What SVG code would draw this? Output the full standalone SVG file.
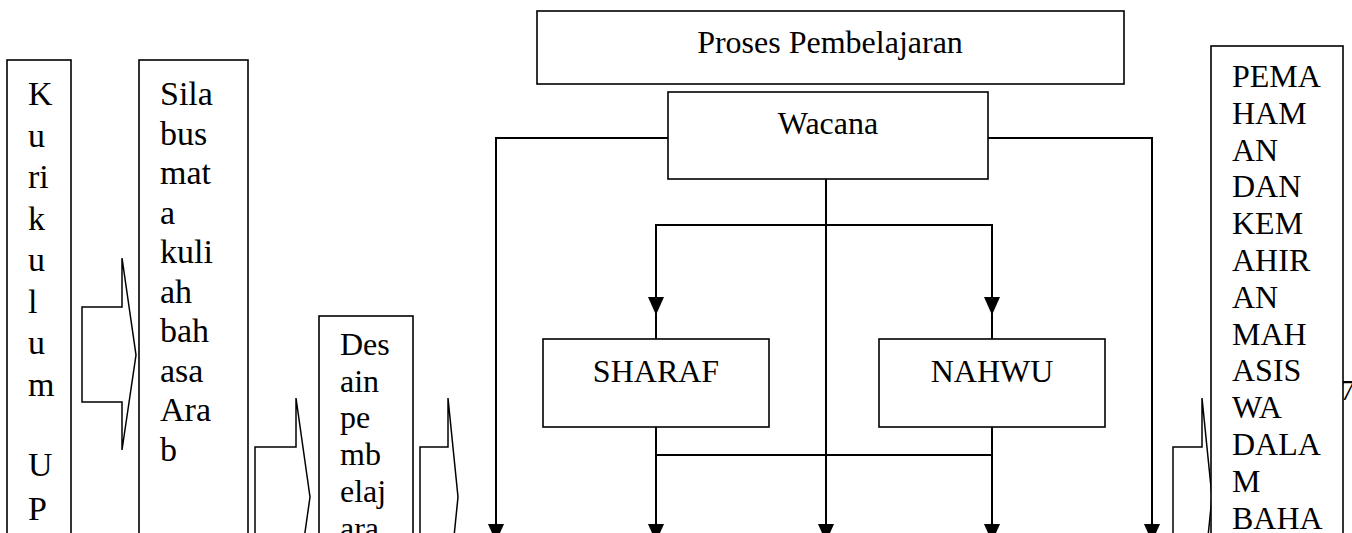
<svg xmlns="http://www.w3.org/2000/svg" width="1352" height="533" viewBox="0 0 1352 533">
<style>
.box{fill:#fff;stroke:#000;stroke-width:1.6}
.blk{fill:#fff;stroke:#000;stroke-width:1.5;stroke-linejoin:miter}
.ln{fill:none;stroke:#000;stroke-width:2}
.hd{fill:#000;stroke:none}
text{font-family:"Liberation Serif","Times New Roman",serif;fill:#000}
.t34{font-size:34px}
.t32{font-size:32px}
.t30{font-size:30px}
.mid{text-anchor:middle}
</style>
<rect width="1352" height="533" fill="#fff"/>
<text x="1340" y="400" class="t30">7</text>
<g id="kurikulum">
<rect class="box" x="7" y="60" width="64" height="500"/>
<text class="t34"><tspan x="28" y="105">K</tspan><tspan x="28" y="146.5">u</tspan><tspan x="28" y="188">ri</tspan><tspan x="28" y="229.5">k</tspan><tspan x="28" y="271">u</tspan><tspan x="28" y="312.5">l</tspan><tspan x="28" y="354">u</tspan><tspan x="28" y="395.5">m</tspan><tspan x="28" y="476">U</tspan><tspan x="28" y="520">P</tspan></text>
</g>
<g id="arrow1"><polygon class="blk" points="82,307 122,307 122,258 136,355 122,450 122,402 82,402"/></g>
<g id="silabus">
<rect class="box" x="139" y="60" width="109" height="500"/>
<text class="t34"><tspan x="160" y="105">Sila</tspan><tspan x="160" y="144.5">bus</tspan><tspan x="160" y="184">mat</tspan><tspan x="160" y="223.5">a</tspan><tspan x="160" y="263">kuli</tspan><tspan x="160" y="302.5">ah</tspan><tspan x="160" y="342">bah</tspan><tspan x="160" y="381.5">asa</tspan><tspan x="160" y="421">Ara</tspan><tspan x="160" y="460.5">b</tspan></text>
</g>
<g id="arrow2"><polygon class="blk" points="255,447 296,447 296,398 310,497 296,596 296,547 255,547"/></g>
<g id="desain">
<rect class="box" x="319" y="316" width="94" height="260"/>
<text class="t32"><tspan x="340" y="355">Des</tspan><tspan x="340" y="392">ain</tspan><tspan x="340" y="428">pe</tspan><tspan x="340" y="465">mb</tspan><tspan x="340" y="502">elaj</tspan><tspan x="340" y="539">ara</tspan></text>
</g>
<g id="arrow3"><polygon class="blk" points="420,447 448,447 448,398 458,497 448,596 448,547 420,547"/></g>
<g id="connectors">
<polyline class="ln" points="668,138 496,138 496,526"/>
<polyline class="ln" points="988,138 1152,138 1152,526"/>
<line class="ln" x1="826" y1="179" x2="826" y2="526"/>
<polyline class="ln" points="656,339 656,225 992,225 992,339"/>
<polyline class="ln" points="656,427 656,455 992,455"/>
<line class="ln" x1="656" y1="455" x2="656" y2="526"/>
<line class="ln" x1="992" y1="427" x2="992" y2="526"/>
<polygon class="hd" points="648,297 664,297 656,315"/>
<polygon class="hd" points="984,297 1000,297 992,315"/>
<polygon class="hd" points="488,524 504,524 496,542"/>
<polygon class="hd" points="648,524 664,524 656,542"/>
<polygon class="hd" points="818,524 834,524 826,542"/>
<polygon class="hd" points="984,524 1000,524 992,542"/>
<polygon class="hd" points="1144,524 1160,524 1152,542"/>
</g>
<g id="proses">
<rect class="box" x="537" y="11" width="587" height="73"/>
<text class="t32 mid" x="830" y="53">Proses Pembelajaran</text>
</g>
<g id="wacana">
<rect class="box" x="668" y="92" width="320" height="87"/>
<text class="t32 mid" x="828" y="134">Wacana</text>
</g>
<g id="sharaf">
<rect class="box" x="543" y="339" width="226" height="88"/>
<text class="t32 mid" x="656" y="382">SHARAF</text>
</g>
<g id="nahwu">
<rect class="box" x="879" y="339" width="226" height="88"/>
<text class="t32 mid" x="992" y="382">NAHWU</text>
</g>
<g id="arrow4"><polygon class="blk" points="1173,447 1202,447 1202,398 1212,497 1202,596 1202,547 1173,547"/></g>
<g id="pemahaman">
<rect class="box" x="1211" y="46" width="132" height="520"/>
<text class="t32"><tspan x="1232" y="87">PEMA</tspan><tspan x="1232" y="123.8">HAM</tspan><tspan x="1232" y="160.6">AN</tspan><tspan x="1232" y="197.4">DAN</tspan><tspan x="1232" y="234.2">KEM</tspan><tspan x="1232" y="271">AHIR</tspan><tspan x="1232" y="307.8">AN</tspan><tspan x="1232" y="344.6">MAH</tspan><tspan x="1232" y="381.4">ASIS</tspan><tspan x="1232" y="418.2">WA</tspan><tspan x="1232" y="455">DALA</tspan><tspan x="1232" y="491.8">M</tspan><tspan x="1232" y="528.6">BAHA</tspan></text>
</g>
</svg>
